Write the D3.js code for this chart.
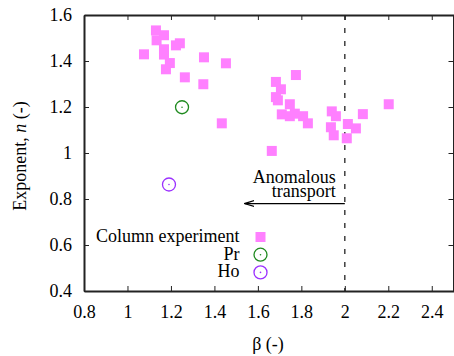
<!DOCTYPE html>
<html>
<head>
<meta charset="utf-8">
<script src="https://cdn.jsdelivr.net/npm/d3@7"></script>
</head>
<body style="margin:0;background:#fff">
<script>
// column experiment points (beta, n)
var expBeta = [1.131, 1.168, 1.134, 1.076, 1.168, 1.168, 1.223, 1.241, 1.195, 1.177,
  1.352, 1.453, 1.264, 1.349, 1.434,
  1.775, 1.683, 1.706, 1.683, 1.692, 1.747, 1.710, 1.747, 1.770, 1.808, 1.830, 1.664,
  1.940, 1.959, 1.936, 1.949, 2.014, 2.051, 2.009, 2.083, 2.202];
var expN = [1.533, 1.512, 1.490, 1.429, 1.451, 1.428, 1.468, 1.477, 1.391, 1.364,
  1.416, 1.390, 1.329, 1.299, 1.129,
  1.339, 1.309, 1.277, 1.243, 1.229, 1.212, 1.168, 1.160, 1.171, 1.160, 1.129, 1.009,
  1.181, 1.160, 1.112, 1.077, 1.126, 1.107, 1.064, 1.169, 1.212];
var prPoint = [1.251, 1.199];
var hoPoint = [1.191, 0.863];

var xTicks = [0.8, 1, 1.2, 1.4, 1.6, 1.8, 2, 2.2, 2.4];
var yTicks = [0.4, 0.6, 0.8, 1, 1.2, 1.4, 1.6];
var legendLabels = ["Column experiment", "Pr", "Ho"];

var W = 454, H = 356;
var margin = { top: 15, right: 0, bottom: 65, left: 84 };
var width = 453.5 - margin.left, height = 291 - margin.top;
var FONT = "'Liberation Serif', 'Times New Roman', 'DejaVu Serif', serif";

var x = d3.scaleLinear().domain([0.8, 2.5]).range([0, width]);
var y = d3.scaleLinear().domain([0.4, 1.6]).range([height, 0]);

var svg = d3.select("body").append("svg")
  .attr("width", W).attr("height", H);
var g = svg.append("g")
  .attr("transform", "translate(" + margin.left + "," + margin.top + ")");

var col = { exp: "#ff80ff", pr: "#1f8a1f", ho: "#9b30ff", ax: "#222" };

// threshold line at beta = 2
g.append("line")
  .attr("x1", x(2)).attr("x2", x(2))
  .attr("y1", 0).attr("y2", height)
  .attr("stroke", "#222").attr("stroke-width", 1.3)
  .attr("stroke-dasharray", "5,8");

// arrow
svg.append("defs").append("marker")
  .attr("id", "ah").attr("viewBox", "0 0 10 10")
  .attr("refX", 9.5).attr("refY", 5)
  .attr("markerWidth", 10).attr("markerHeight", 10)
  .attr("markerUnits", "userSpaceOnUse")
  .attr("orient", "auto")
  .append("path").attr("d", "M0,2 L10,5 L0,8").attr("fill", "none")
  .attr("stroke", "#000").attr("stroke-width", 1.2);
g.append("line")
  .attr("x1", x(2)).attr("x2", x(1.54))
  .attr("y1", y(0.78)).attr("y2", y(0.78))
  .attr("stroke", "#000").attr("stroke-width", 1.3)
  .attr("marker-end", "url(#ah)");
g.append("text").attr("x", x(2) - 9).attr("y", y(0.78) - 21)
  .attr("text-anchor", "end").text("Anomalous");
g.append("text").attr("x", x(2) - 9).attr("y", y(0.78) - 7)
  .attr("text-anchor", "end").text("transport");

// points
g.selectAll("rect.exp")
  .data(expBeta)
  .enter().append("rect")
  .attr("class", "exp")
  .attr("x", function (d) { return x(d) - 5; })
  .attr("y", function (d, i) { return y(expN[i]) - 5; })
  .attr("width", 10).attr("height", 10)
  .attr("fill", col.exp);

function circ(sel, cx, cy, c) {
  sel.append("circle").attr("cx", cx).attr("cy", cy).attr("r", 6.5)
    .attr("fill", "none").attr("stroke", c).attr("stroke-width", 1.3);
  sel.append("circle").attr("cx", cx).attr("cy", cy).attr("r", 0.8).attr("fill", c);
}
circ(g, x(prPoint[0]), y(prPoint[1]), col.pr);
circ(g, x(hoPoint[0]), y(hoPoint[1]), col.ho);

// axes with inward ticks on all four sides
var axB = g.append("g").attr("transform", "translate(0," + height + ")")
  .call(d3.axisBottom(x).tickValues(xTicks).tickSizeInner(-5).tickSizeOuter(0).tickPadding(14)
    .tickFormat(d3.format("")));
var axT = g.append("g")
  .call(d3.axisTop(x).tickValues(xTicks).tickSizeInner(-5).tickSizeOuter(0).tickFormat(""));
var axL = g.append("g")
  .call(d3.axisLeft(y).tickValues(yTicks).tickSizeInner(-5).tickSizeOuter(0).tickPadding(12)
    .tickFormat(d3.format("")));
var axR = g.append("g").attr("transform", "translate(" + width + ",0)")
  .call(d3.axisRight(y).tickValues(yTicks).tickSizeInner(-5).tickSizeOuter(0).tickFormat(""));
[axB, axT, axL, axR].forEach(function (a) {
  a.select(".domain").attr("stroke", col.ax).attr("stroke-width", 2);
  a.selectAll(".tick line").attr("stroke", col.ax).attr("stroke-width", 1);
  a.selectAll("text").attr("fill", "#000");
});

// legend
var lx = 260.5 - margin.left, ly0 = 237 - margin.top, dy = 17.7;
legendLabels.forEach(function (lab, i) {
  var cy = ly0 + i * dy;
  g.append("text").attr("x", lx - 21).attr("y", cy + 5)
    .attr("text-anchor", "end").text(lab);
  if (i === 0) {
    g.append("rect").attr("x", lx - 5).attr("y", cy - 5)
      .attr("width", 10).attr("height", 10).attr("fill", col.exp);
  } else {
    circ(g, lx, cy, i === 1 ? col.pr : col.ho);
  }
});

// axis titles
svg.append("text")
  .attr("transform", "translate(26,156) rotate(-90)")
  .attr("text-anchor", "middle")
  .html("Exponent, <tspan font-style='italic'>n</tspan> (-)");
svg.append("text").attr("x", 268).attr("y", 350)
  .attr("text-anchor", "middle").text("β (-)");

// one font for all texts
svg.selectAll("text")
  .style("font-family", FONT).style("font-size", "18px");
</script>
</body>
</html>
